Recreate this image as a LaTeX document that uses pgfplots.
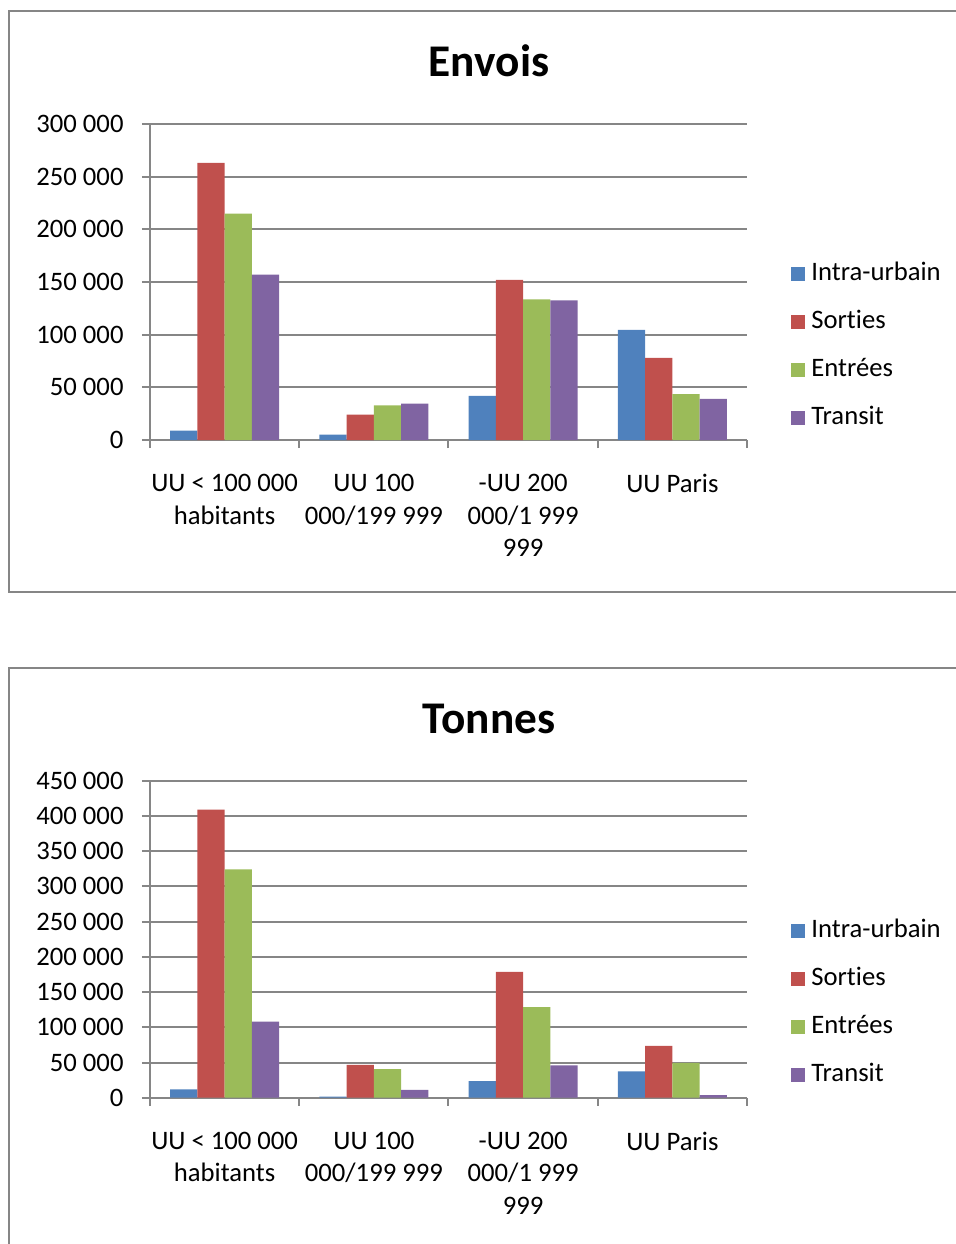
\documentclass[border=0pt]{standalone}
\usepackage{pgfplots}
\pgfplotsset{compat=1.18}
\usepackage{pgfplotstable}
\usepackage{fontspec}
\setmainfont{Carlito}[Ligatures=NoCommon]

\definecolor{cIntra}{HTML}{4F81BD}
\definecolor{cSort}{HTML}{C0504D}
\definecolor{cEntr}{HTML}{9BBB59}
\definecolor{cTrans}{HTML}{8064A2}
\definecolor{gridgray}{RGB}{134,134,134}

% Envois par catégorie d'unité urbaine
\pgfplotstableread{
x intra sorties entrees transit
0 9000   263000 215000 157000
1 5000   24000  33000  34500
2 42000  152000 133500 132500
3 104500 78000  43500  39000
}\envois

% Tonnes par catégorie d'unité urbaine
\pgfplotstableread{
x intra sorties entrees transit
0 12000 409000 324000 108000
1 1500  46500  40500  11000
2 23500 178500 128500 46000
3 37500 73500  49500  3800
}\tonnes

\pgfplotsset{
  urbchart/.style={
    anchor=south west,
    scale only axis,
    width=223.875pt,
    xmin=-0.5, xmax=3.5, ymin=0,
    scaled y ticks=false,
    axis lines=left,
    axis line style={-, draw=gridgray, line width=0.75pt},
    tick align=outside,
    major tick length=3pt,
    tick style={draw=gridgray, line width=0.75pt},
    ymajorgrids,
    major grid style={draw=gridgray, line width=0.75pt},
    xtick={-0.5,0.5,1.5,2.5,3.5},
    xticklabels={},
    extra x ticks={0,1,2,3},
    extra x tick labels={{UU < 100 000\\habitants},{UU 100\\000/199 999},{-UU 200\\000/1 999\\999},{UU Paris}},
    extra x tick style={major tick length=0pt, xmajorgrids=false,
      xticklabel style={align=center, anchor=north, yshift=-9.3pt,
        font=\fontsize{10}{12.2}\selectfont}},
    yticklabel style={font=\fontsize{10}{12}\selectfont, xshift=-3.4pt},
    ybar=0pt, bar width=10.2pt,
    every axis plot/.append style={draw=none,
      legend image code/.code={\fill[##1] (0pt,-2.63pt) rectangle (5.25pt,2.63pt);}},
    legend cell align=left,
    legend style={draw=none, fill=none, inner sep=0pt, outer sep=0pt,
      row sep=9pt, font=\fontsize{10}{12}\selectfont,
      nodes={inner sep=0pt, text height=7pt, text depth=2pt, anchor=west},
      /tikz/every odd column/.append style={column sep=2.4pt}},
  },
}

\begin{document}
\begin{tikzpicture}
\useasboundingbox (0,0) rectangle (358.5pt,-466.5pt);

% cadres des deux graphiques
\draw[gridgray, line width=0.75pt] (358.5pt,-4.125pt) -- (3.19pt,-4.125pt) -- (3.19pt,-222.1pt) -- (358.5pt,-222.1pt);
\draw[gridgray, line width=0.75pt] (358.5pt,-250.6pt) -- (3.19pt,-250.6pt) -- (3.19pt,-466.5pt);

% titres
\node[anchor=base, font=\bfseries\fontsize{17}{20}\selectfont] at (183.4pt,-28.5pt) {Envois};
\node[anchor=base, font=\bfseries\fontsize{17}{20}\selectfont] at (183.4pt,-274.9pt) {Tonnes};

\begin{axis}[urbchart,
  at={(56.25pt,-165pt)}, height=118.5pt, ymax=300000,
  ytick={0,50000,...,300000},
  yticklabels={0,50 000,100 000,150 000,200 000,250 000,300 000},
  legend style={at={(1.0737,0.299)}, anchor=west},
]
\addplot[fill=cIntra] table[x=x, y=intra] {\envois};
\addplot[fill=cSort] table[x=x, y=sorties] {\envois};
\addplot[fill=cEntr] table[x=x, y=entrees] {\envois};
\addplot[fill=cTrans] table[x=x, y=transit] {\envois};
\legend{Intra-urbain, Sorties, Entrées, Transit}
\end{axis}

\begin{axis}[urbchart,
  at={(56.25pt,-411.64pt)}, height=118.875pt, ymax=450000,
  ytick={0,50000,...,450000},
  yticklabels={0,50 000,100 000,150 000,200 000,250 000,300 000,350 000,400 000,450 000},
  legend style={at={(1.0737,0.300)}, anchor=west},
]
\addplot[fill=cIntra] table[x=x, y=intra] {\tonnes};
\addplot[fill=cSort] table[x=x, y=sorties] {\tonnes};
\addplot[fill=cEntr] table[x=x, y=entrees] {\tonnes};
\addplot[fill=cTrans] table[x=x, y=transit] {\tonnes};
\legend{Intra-urbain, Sorties, Entrées, Transit}
\end{axis}
\end{tikzpicture}
\end{document}
